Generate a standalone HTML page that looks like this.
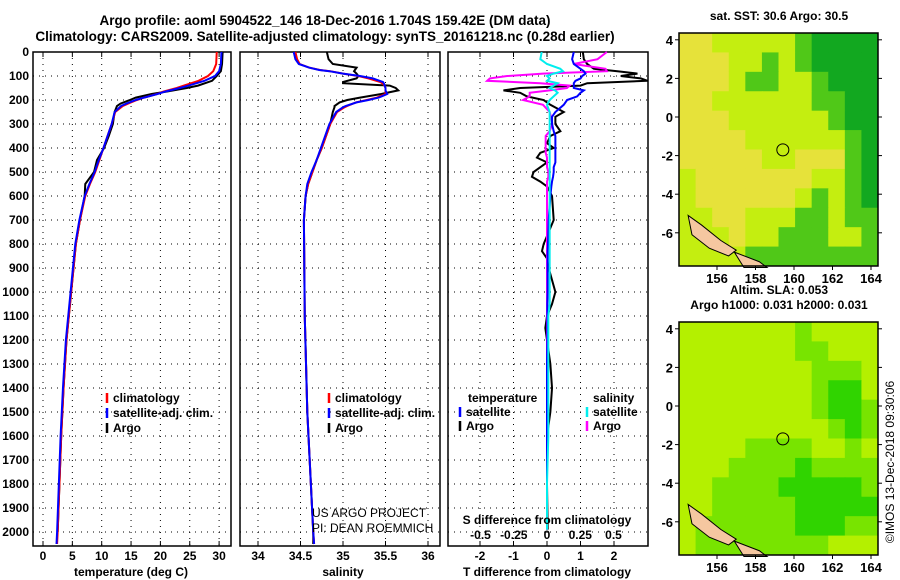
<!DOCTYPE html>
<html><head><meta charset="utf-8"><style>
body{margin:0;background:#fff}
svg{display:block;font-family:"Liberation Sans",sans-serif;font-weight:bold;font-size:12px}
</style></head><body>
<svg id="c" width="900" height="580" viewBox="0 0 900 580">
<text x="325" y="25" text-anchor="middle" font-size="13.5">Argo profile: aoml 5904522_146 18-Dec-2016 1.704S 159.42E (DM data)</text>
<text x="325" y="41" text-anchor="middle" font-size="13.5">Climatology: CARS2009. Satellite-adjusted climatology: synTS_20161218.nc (0.28d earlier)</text>
<g id="g"></g>
</svg>
<script>
const NS="http://www.w3.org/2000/svg";
const root=document.getElementById('g');
function el(t,a,p){const e=document.createElementNS(NS,t);for(const k in a)e.setAttribute(k,a[k]);(p||root).appendChild(e);return e;}
// depth axis
const depthTicks=[0,100,200,300,400,500,600,700,800,900,1000,1100,1200,1300,1400,1500,1600,1700,1800,1900,2000];
const yD=d=>52+d*0.24;
// temperature panel data
const tDepth=[0,50,80,100,120,140,150,165,175,190,200,215,225,250,300,350,400,450,500,550,600,700,800,900,1000,1100,1200,1400,1600,1800,2000,2050];
const tClim=[29.6,29.5,29.0,28.1,26.5,24.0,22.8,20.5,19.4,17.2,16.0,14.5,13.6,12.3,11.7,11.0,10.3,9.6,8.9,8.0,7.2,6.3,5.6,5.2,4.8,4.4,4.0,3.5,3.1,2.8,2.5,2.4];
const tSat=[30.4,30.3,30.0,29.3,27.5,24.8,23.3,20.8,19.5,17.2,15.8,14.2,13.3,12.2,11.7,11.0,10.3,9.5,8.8,7.9,7.1,6.2,5.5,5.1,4.7,4.3,3.9,3.4,3.0,2.7,2.4,2.3];
const tArgo=[30.6,30.5,30.3,29.6,28.8,26.4,24.5,21.0,18.5,15.8,14.8,13.2,12.6,12.2,11.9,11.2,10.4,9.2,8.7,7.2,7.1,6.3,5.6,5.2,4.8,4.4,4.0,3.5,3.1,2.8,2.5,2.5];
// salinity panel data
const sDepth=[0,30,50,65,75,80,90,100,110,125,130,140,150,160,175,190,200,210,225,230,250,300,400,450,500,550,600,700,1100,1500,2000,2050];
const sClim=[34.44,34.46,34.49,34.6,34.73,34.85,35.0,35.18,35.3,35.44,35.46,35.49,35.5,35.5,35.5,35.4,35.28,35.15,35.05,35.02,34.93,34.85,34.75,34.69,34.64,34.59,34.56,34.54,34.55,34.58,34.65,34.66];
const sSat=[34.42,34.44,34.48,34.6,34.72,34.84,35.0,35.2,35.35,35.47,35.48,35.49,35.5,35.5,35.52,35.42,35.3,35.16,35.03,35.0,34.92,34.84,34.74,34.69,34.63,34.58,34.56,34.54,34.55,34.58,34.65,34.66];
const sArgo=[34.81,34.83,34.88,35.16,35.14,35.13,35.16,35.18,35.16,35.0,35.0,35.55,35.62,35.65,35.45,35.2,35.05,34.96,34.9,34.9,34.88,34.85,34.75,34.69,34.64,34.59,34.56,34.54,34.55,34.58,34.65,34.65];
// difference panel data
const dDepth=[0,30,50,70,80,90,100,110,120,130,140,150,160,170,185,200,220,250,270,300,330,350,380,400,420,440,460,480,500,520,540,560,600,700,750,800,830,860,900,1000,1050,1100,1150,1200,1300,1400,1500,1600,1800,1990];
const dTArgo=[1.07,1.1,1.2,1.4,2.1,2.7,2.2,2.8,3.0,1.2,1.0,-0.8,-1.3,-0.8,-0.6,-0.1,0.1,0.5,0.25,0.25,0.4,0.1,0.0,0.2,-0.2,-0.3,0.0,-0.2,-0.4,-0.45,-0.2,0.0,0.15,0.2,0.05,-0.1,-0.15,0.0,0.05,0.25,0.15,0.0,-0.05,0.0,0.1,0.15,0.1,0.0,0.0,0.02];
const dTSat=[0.8,0.75,0.8,1.0,1.1,1.15,1.05,1.0,0.85,0.8,0.8,0.8,1.1,1.0,0.9,0.6,0.5,0.25,0.15,0.15,0.2,0.25,0.25,0.25,0.25,0.25,0.25,0.2,0.2,0.18,0.15,0.13,0.1,0.05,0.04,0.03,0.02,0.02,0.02,0.02,0.01,0.01,0.01,0.01,0.0,0.0,0.0,0.0,0.0,0.0];
const dSArgo=[0.45,0.38,0.2,0.44,0.45,-0.03,-0.3,-0.43,-0.45,-0.05,0.17,0.15,0.02,-0.13,-0.13,-0.18,-0.03,0.02,0.03,0.04,0.02,-0.01,-0.01,-0.01,-0.01,0.0,0.0,0.0,0.01,0.01,0.0,0.0,0.0,0.0,0.0,0.0,0.0,0.0,0.0,0.0,0.0,0.0,0.0,0.0,0.0,0.0,0.0,0.0,0.0,0.0];
const dSSat=[-0.04,-0.05,0.0,0.1,0.12,0.05,0.0,0.02,0.0,0.08,0.05,0.02,0.06,0.08,0.05,0.02,0.0,0.02,0.02,0.02,0.02,0.02,0.02,0.02,0.02,0.02,0.02,0.02,0.02,0.02,0.02,0.02,0.02,0.02,0.02,0.02,0.02,0.02,0.02,0.02,0.02,0.01,0.01,0.01,0.01,0.01,0.01,0.01,0.0,0.0];
const xT=t=>43+t*5.87, xS=s=>258+(s-34)*85, xdT=v=>547+v*33.5, xdS=v=>547+v*133;
function panel(name,x0,x1,ticks,fx,labels,title,tx){
  const g=el('g',{});
  
  
  for(const d of depthTicks){const l=el('line',{x1:x0,x2:x1,y1:yD(d),y2:yD(d),stroke:'#000','stroke-dasharray':'1 5'},g);}
  ticks.forEach((t,i)=>{const x=fx(t);el('line',{x1:x,x2:x,y1:52,y2:546,stroke:'#000','stroke-dasharray':'1 5'},g);
    el('line',{x1:x,x2:x,y1:546,y2:541,stroke:'#000'},g);el('line',{x1:x,x2:x,y1:52,y2:57,stroke:'#000'},g);
    if(labels){const tt=el('text',{x:x,y:560,'text-anchor':'middle'},g);tt.textContent=labels[i];}});
  el('rect',{x:x0,y:52,width:x1-x0,height:494,fill:'none',stroke:'#000','stroke-width':1.5},g);
  const tl=el('text',{x:tx,y:576,'text-anchor':'middle'},g);tl.textContent=title;
  
  
  return g;
}
function line(g,ds,vs,fx,col,name,w){const p=el('polyline',{points:ds.map((d,i)=>fx(vs[i])+','+yD(d)).join(' '),fill:'none',stroke:col,'stroke-width':w||2},g);
  
  }
// depth labels
const dl=el('g',{});


depthTicks.forEach(d=>{const t=el('text',{x:29,y:yD(d)+4,'text-anchor':'end'},dl);t.textContent=d;});
const p1=panel('temperature-panel',33,231,[0,5,10,15,20,25,30],xT,['0','5','10','15','20','25','30'],'temperature (deg C)',131);
line(p1,tDepth.slice(0,31),tArgo.slice(0,31),xT,'#000','argo-temperature-line');
line(p1,tDepth,tClim,xT,'#f00','climatology-temperature-line');
line(p1,tDepth,tSat,xT,'#00f','satellite-temperature-line');
const p2=panel('salinity-panel',240,440,[34,34.5,35,35.5,36],xS,['34','34.5','35','35.5','36'],'salinity',343);
line(p2,sDepth,sArgo,xS,'#000','argo-salinity-line');
line(p2,sDepth,sClim,xS,'#f00','climatology-salinity-line');
line(p2,sDepth,sSat,xS,'#00f','satellite-salinity-line');
const p3=panel('difference-panel',448,648,[-2,-1,0,1,2],xdT,['-2','-1','0','1','2'],'T difference from climatology',547);
line(p3,dDepth,dTArgo,xdT,'#000','argo-t-diff-line');
line(p3,dDepth,dSArgo,xdS,'#f0f','argo-s-diff-line');
line(p3,dDepth,dTSat,xdT,'#00f','satellite-t-diff-line');
line(p3,dDepth,dSSat,xdS,'#0ee','satellite-s-diff-line');
[[-0.5,'-0.5'],[-0.25,'-0.25'],[0,'0'],[0.25,'0.25'],[0.5,'0.5']].forEach(a=>{const t=el('text',{x:xdS(a[0]),y:539,'text-anchor':'middle'},p3);t.textContent=a[1];});
const sdt=el('text',{x:547,y:524,'text-anchor':'middle'},p3);sdt.textContent='S difference from climatology';
// legends
function leg(x,y,col,txt,name){const g=el('g',{});
  
  
  if(col)el('line',{x1:x,x2:x,y1:y-9,y2:y+1,stroke:col,'stroke-width':2.5},g);
  const t=el('text',{x:x+6,y:y},g);t.textContent=txt;}
leg(107,402,'#f00','climatology','legend-climatology');leg(107,417,'#00f','satellite-adj. clim.','legend-satellite-adj');leg(107,432,'#000','Argo','legend-argo');
leg(329,402,'#f00','climatology','legend-climatology-2');leg(329,417,'#00f','satellite-adj. clim.','legend-satellite-adj-2');leg(329,432,'#000','Argo','legend-argo-2');
leg(462,402,null,'temperature','legend-temperature-heading');leg(460,416,'#00f','satellite','legend-t-satellite');leg(460,430,'#000','Argo','legend-t-argo');
leg(587,402,null,'salinity','legend-salinity-heading');leg(587,416,'#0ee','satellite','legend-s-satellite');leg(587,430,'#f0f','Argo','legend-s-argo');
const u1=el('text',{x:312,y:517,'font-weight':'normal'});u1.textContent='US ARGO PROJECT';
const u2=el('text',{x:312,y:532,'font-weight':'normal'});u2.textContent='PI: DEAN ROEMMICH';
// maps
const sstGrid=["YYLLLLLGDDDD","YYYLLGLGDDDD","YYYLGGLLGDDD","YYLLLLLLGGDD","YYYLLLLLLGDD","YYYYLLLLLLGD","YYYYYLLYYYGD","LYYYYYYYLLGD","LYYYYYYLGLGD","LLYYLLLGGLGG","LLLYLLGGGLLG","LLLLGGGGGGGG"];
const slaGrid=["LLLLLLLGLLLL","LLLLLLLGGLLL","LLLLLLLLGGGL","LLLLLLLLGMML","LLLLLLLLGMMG","LLLLLLLLLGMG","LLLLGGGGLLGL","LLLGGGGMGGGG","LLGGGGMMMMMG","LLGGGGGMMMMM","LGGGGGGMMMGG","LGGGGGGGGLLL"];
const sstCol={Y:'#e6e23a',L:'#c4ee10',G:'#50c818',D:'#12a820'};
const slaCol={L:'#b4f000',G:'#78e400',M:'#30d400'};
const latTicks=[4,2,0,-2,-4,-6], lonTicks=[156,158,160,162,164];
const argoLon=159.42, argoLat=-1.704;
function map(name,top,grid,cols,title){
  const g=el('g',{});
  
  
  const x0=679,x1=878,y1=top+233,y0=top, lx=l=>717+(l-156)*19.25, ly=a=>top+84+(0-a)*19.3;
  const cw=(x1-x0)/12,ch=(y1-y0)/12;
  grid.forEach((r,i)=>[...r].forEach((c,j)=>{el('rect',{x:x0+j*cw,y:y0+i*ch,width:cw+0.5,height:ch+0.5,fill:cols[c]},g);}));
  el('path',{d:`M${lx(154.5)},${ly(-5.1)} L${lx(155.2)},${ly(-5.6)} L${lx(156.2)},${ly(-6.4)} L${lx(157)},${ly(-6.9)} L${lx(156.6)},${ly(-7.2)} L${lx(155.6)},${ly(-6.8)} L${lx(154.7)},${ly(-6.1)} Z`,fill:'#f5c7a0',stroke:'#000'},g);
  el('path',{d:`M${lx(156.9)},${ly(-7.0)} L${lx(158.2)},${ly(-7.5)} L${lx(158.6)},${ly(-7.8)} L${lx(157.4)},${ly(-7.8)} Z`,fill:'#f5c7a0',stroke:'#000'},g);
  el('circle',{cx:lx(argoLon),cy:ly(argoLat),r:6,fill:'none',stroke:'#000'},g);
  el('rect',{x:x0,y:y0,width:x1-x0,height:y1-y0,fill:'none',stroke:'#000','stroke-width':1.5},g);
  latTicks.forEach(a=>{el('line',{x1:x0,x2:x0-4,y1:ly(a),y2:ly(a),stroke:'#000'},g);el('line',{x1:x1,x2:x1+4,y1:ly(a),y2:ly(a),stroke:'#000'},g);const t=el('text',{x:673,y:ly(a)+5,'text-anchor':'end','font-size':13},g);t.textContent=a;});
  lonTicks.forEach(l=>{el('line',{x1:lx(l),x2:lx(l),y1:y1,y2:y1+4,stroke:'#000'},g);const t=el('text',{x:lx(l),y:y1+17,'text-anchor':'middle','font-size':13},g);t.textContent=l;});
  title.forEach((s,i)=>{const t=el('text',{x:779,y:top-(title.length-i)*15+2,'text-anchor':'middle'},g);t.textContent=s;});
}
map('sst-map',33,sstGrid,sstCol,['sat. SST: 30.6 Argo: 30.5']);
map('sla-map',322,slaGrid,slaCol,['Altim. SLA: 0.053','Argo h1000: 0.031 h2000: 0.031']);
const cr=el('text',{x:0,y:0,'text-anchor':'middle','font-weight':'normal','font-size':12,transform:'translate(894,462) rotate(-90)'});


cr.textContent='©IMOS 13-Dec-2018 09:30:06';
</script>
</body></html>
